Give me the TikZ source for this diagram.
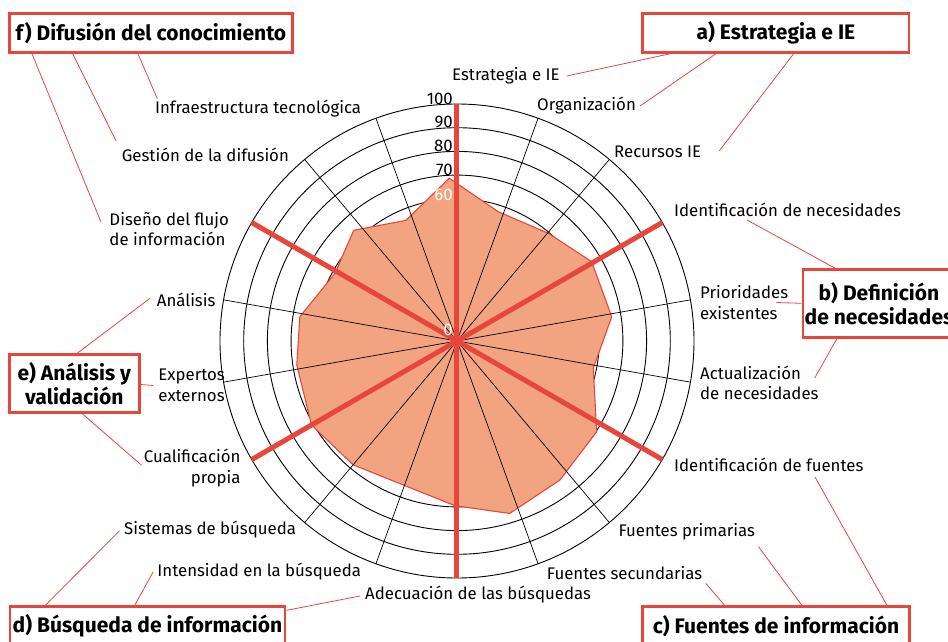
\documentclass[tikz,border=0pt]{standalone}
\usepackage{fontspec}
\setmainfont{Fira Sans}
\usetikzlibrary{calc}
\definecolor{chartred}{HTML}{E8463C}
\definecolor{chartfill}{HTML}{F2A480}

\begin{document}
\begin{tikzpicture}[x=1pt, y=1pt,
	lbl/.style={inner sep=0pt, font=\fontsize{16.8}{20.5}\selectfont},
	group/.style={draw=chartred, line width=2.7pt, fill=white, inner sep=0pt, align=center, font=\fontsize{21}{24}\selectfont\bfseries},
	lead/.style={chartred, line width=0.8pt},
	ring/.style={line width=0.9pt},
	spoke/.style={line width=0.7pt},
	divider/.style={chartred, line width=5pt}]
	\useasboundingbox (-457,-300) rectangle (491,341);
	\coordinate (c) at (0,0);

	% rings
	\draw[ring] (c) circle[radius=142.2];
	\draw[ring] (c) circle[radius=165.9];
	\draw[ring] (c) circle[radius=189.6];
	\draw[ring] (c) circle[radius=213.3];
	\draw[ring] (c) circle[radius=237];

	% values
	\filldraw[fill=chartfill, draw=chartred, line width=1.1pt] (92.7:163) -- (113:131) -- (133:151.4) -- (151:139.5) -- (171.2:159) -- (188.5:162) -- (210:168) -- (230:161.6) -- (250:153.7) -- (269.3:164.7) -- (287:180.3) -- (306.5:173) -- (327:166.5) -- (348.7:139) -- (8.9:156.6) -- (30.5:156.3) -- (49.7:141.2) -- (72.3:135.7) -- cycle;

	% spokes
	\draw[spoke] (c) -- (70:237);
	\draw[spoke] (c) -- (50:237);
	\draw[spoke] (c) -- (10:237);
	\draw[spoke] (c) -- (-10:237);
	\draw[spoke] (c) -- (-50:237);
	\draw[spoke] (c) -- (-70:237);
	\draw[spoke] (c) -- (-110:237);
	\draw[spoke] (c) -- (-130:237);
	\draw[spoke] (c) -- (-170:237);
	\draw[spoke] (c) -- (170:237);
	\draw[spoke] (c) -- (130:237);
	\draw[spoke] (c) -- (110:237);
	\draw[divider] (90:237) -- (-90:237);
	\draw[divider] (30:237) -- (-150:237);
	\draw[divider] (-30:237) -- (150:237);

	% scale
	\node[lbl, anchor=base east] (t100) at (-4,237) {100};
	\node[lbl, anchor=base east] (t90) at (-4,213.3) {90};
	\node[lbl, anchor=base east] (t80) at (-4,189.6) {80};
	\node[lbl, anchor=base east] (t70) at (-4,165.9) {70};
	\node[lbl, anchor=base east, text=white] (t60) at (-4,141) {60};
	\node[lbl, anchor=base east, text=white] (t0) at (-4,5.3) {0};

	% axis names
	\node[lbl, anchor=west] (lab0) at (-5,265) {Estrategia e IE};
	\node[lbl, anchor=west] (lab1) at (80,235) {Organización};
	\node[lbl, anchor=west] (lab2) at (157,189) {Recursos IE};
	\node[lbl, anchor=west] (lab3) at (217,131) {Identificación de necesidades};
	\node[lbl, anchor=west, align=left] (lab4) at (243,38.5) {Prioridades\\existentes};
	\node[lbl, anchor=west, align=left] (lab5) at (243,-42) {Actualización\\de necesidades};
	\node[lbl, anchor=west] (lab6) at (217,-124) {Identificación de fuentes};
	\node[lbl, anchor=west] (lab7) at (161.3,-190.7) {Fuentes primarias};
	\node[lbl, anchor=west] (lab8) at (89.7,-232.3) {Fuentes secundarias};
	\node[lbl, anchor=west] (lab9) at (-92,-254) {Adecuación de las búsquedas};
	\node[lbl, anchor=west] (lab10) at (-299.7,-230.7) {Intensidad en la búsqueda};
	\node[lbl, anchor=west] (lab11) at (-333,-189) {Sistemas de búsqueda};
	\node[lbl, anchor=east, align=right] (lab12) at (-216.3,-127.3) {Cualificación\\propia};
	\node[lbl, anchor=west, align=left] (lab13) at (-298.7,-44.5) {Expertos\\externos};
	\node[lbl, anchor=west] (lab14) at (-300.3,41) {Análisis};
	\node[lbl, anchor=west, align=left] (lab15) at (-347.7,112) {Diseño del flujo\\de información};
	\node[lbl, anchor=west] (lab16) at (-335.3,186) {Gestión de la difusión};
	\node[lbl, anchor=west] (lab17) at (-302,232) {Infraestructura tecnológica};

	% groups
	\node[group, minimum width=266.3, minimum height=39] (boxa) at (318.9,308.2) {a) Estrategia e IE};
	\node[group, minimum width=152, minimum height=68] (boxb) at (422,37.7) {b) Definición\\de necesidades};
	\node[group, minimum width=266.6, minimum height=39] (boxc) at (319,-285.2) {c) Fuentes de información};
	\node[group, minimum width=275, minimum height=39] (boxd) at (-309.5,-285.2) {d) Búsqueda de información};
	\node[group, minimum width=130, minimum height=58.4] (boxe) at (-382.7,-42.5) {e) Análisis y\\validación};
	\node[group, minimum width=283.4, minimum height=39] (boxf) at (-306,308.2) {f) Difusión del conocimiento};

	% leaders
	\draw[lead] ($(boxa.south west)+(29.3,0)$) -- ($(lab0.east)+(7,0)$);
	\draw[lead] ($(boxa.south west)+(74.6,0)$) -- ($(lab1.east)+(4,0)$);
	\draw[lead] ($(boxa.south west)+(152.3,0)$) -- ($(lab2.east)+(18,1)$);
	\draw[lead] ($(boxb.north west)+(33,0)$) -- ($(lab3.west)+(73,-10)$);
	\draw[lead] (boxb.west) -- ($(lab4.east)+(-12,0)$);
	\draw[lead] ($(boxb.south west)+(35.3,0)$) -- ($(lab5.east)+(-4,5)$);
	\draw[lead] ($(boxc.north west)+(245.6,0)$) -- ($(lab6.west)+(141,-12)$);
	\draw[lead] ($(boxc.north west)+(160.6,0)$) -- ($(lab7.east)+(3.4,-15)$);
	\draw[lead] ($(boxc.north west)+(83.3,0)$) -- ($(lab8.east)+(3.3,-10)$);
	\draw[lead] ($(boxd.north west)+(36.7,0)$) -- ($(lab11.west)+(-4.7,-1)$);
	\draw[lead] ($(boxd.north west)+(126,0)$) -- ($(lab10.west)+(-4,0)$);
	\draw[lead] ($(boxd.north east)+(0,-5)$) -- ($(lab9.west)+(-5,-1)$);
	\draw[lead] ($(boxe.north west)+(69.7,0)$) -- ($(lab14.west)+(-6.7,1.7)$);
	\draw[lead] ($(boxe.east)+(0,-1)$) -- ($(lab13.west)+(-5,0)$);
	\draw[lead] ($(boxe.south west)+(74.7,0)$) -- ($(lab12.west)+(-2,3)$);
	\draw[lead] ($(boxf.south west)+(130,0)$) -- ($(lab17.west)+(2.3,10.3)$);
	\draw[lead] ($(boxf.south west)+(64.7,0)$) -- ($(lab16.west)+(-5.7,14.3)$);
	\draw[lead] ($(boxf.south west)+(24,0)$) -- ($(lab15.west)+(-8.3,7)$);
\end{tikzpicture}
\end{document}
